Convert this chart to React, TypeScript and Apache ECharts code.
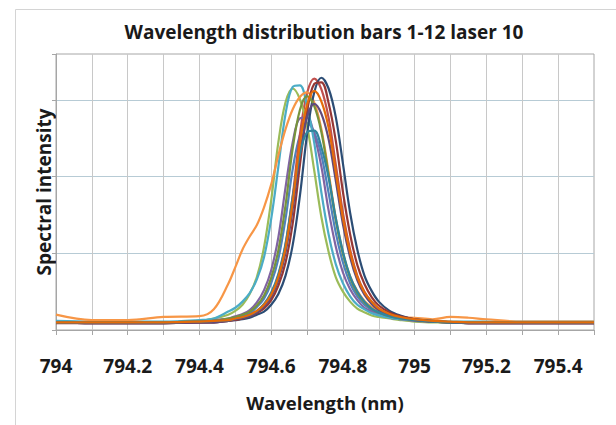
import React, { useEffect, useRef } from 'react';
import * as echarts from 'echarts';

const wavelengths = [794.00, 794.10, 794.20, 794.30, 794.40, 794.44, 794.48, 794.50, 794.52, 794.54, 794.56, 794.58, 794.60, 794.62, 794.64, 794.66, 794.68, 794.70, 794.72, 794.74, 794.76, 794.78, 794.80, 794.82, 794.84, 794.86, 794.88, 794.90, 794.93, 794.96, 795.00, 795.05, 795.10, 795.15, 795.20, 795.30, 795.40, 795.50];

const bar1 = [0.11, 0.10, 0.10, 0.10, 0.11, 0.12, 0.14, 0.16, 0.19, 0.22, 0.30, 0.41, 0.61, 0.93, 1.45, 2.10, 2.54, 2.70, 2.58, 2.28, 1.79, 1.27, 0.88, 0.61, 0.44, 0.33, 0.26, 0.21, 0.17, 0.14, 0.12, 0.11, 0.10, 0.10, 0.10, 0.10, 0.10, 0.10];
const bar2 = [0.10, 0.09, 0.09, 0.09, 0.10, 0.11, 0.13, 0.14, 0.16, 0.20, 0.24, 0.33, 0.47, 0.71, 1.11, 1.75, 2.55, 3.09, 3.28, 3.14, 2.77, 2.16, 1.53, 1.05, 0.71, 0.50, 0.37, 0.28, 0.21, 0.16, 0.13, 0.11, 0.10, 0.09, 0.09, 0.09, 0.09, 0.09];
const bar3 = [0.10, 0.10, 0.10, 0.10, 0.12, 0.15, 0.20, 0.25, 0.33, 0.47, 0.69, 1.08, 1.69, 2.45, 2.97, 3.15, 3.01, 2.66, 2.08, 1.47, 1.02, 0.69, 0.50, 0.37, 0.28, 0.23, 0.19, 0.17, 0.15, 0.13, 0.11, 0.10, 0.10, 0.10, 0.10, 0.10, 0.10, 0.10];
const bar4 = [0.10, 0.10, 0.10, 0.10, 0.11, 0.13, 0.15, 0.18, 0.21, 0.26, 0.36, 0.52, 0.78, 1.21, 1.86, 2.45, 2.76, 2.77, 2.54, 2.13, 1.56, 1.09, 0.75, 0.53, 0.39, 0.29, 0.24, 0.20, 0.16, 0.14, 0.12, 0.11, 0.10, 0.10, 0.10, 0.10, 0.10, 0.10];
const bar5 = [0.12, 0.11, 0.11, 0.11, 0.13, 0.15, 0.24, 0.29, 0.37, 0.48, 0.66, 0.95, 1.45, 2.13, 2.82, 3.17, 3.19, 2.92, 2.44, 1.79, 1.25, 0.86, 0.61, 0.44, 0.33, 0.27, 0.22, 0.19, 0.16, 0.14, 0.13, 0.12, 0.11, 0.11, 0.11, 0.11, 0.11, 0.11];
const bar6 = [0.20, 0.13, 0.13, 0.17, 0.18, 0.27, 0.60, 0.82, 1.05, 1.22, 1.37, 1.60, 1.90, 2.28, 2.62, 2.88, 3.04, 3.10, 2.97, 2.62, 2.06, 1.46, 1.01, 0.70, 0.51, 0.38, 0.30, 0.25, 0.20, 0.17, 0.16, 0.14, 0.17, 0.16, 0.14, 0.11, 0.11, 0.11];
const bar7 = [0.10, 0.09, 0.09, 0.09, 0.10, 0.10, 0.12, 0.13, 0.14, 0.16, 0.20, 0.24, 0.33, 0.47, 0.71, 1.11, 1.75, 2.55, 3.10, 3.29, 3.15, 2.78, 2.17, 1.53, 1.05, 0.71, 0.51, 0.37, 0.25, 0.19, 0.14, 0.12, 0.10, 0.09, 0.09, 0.09, 0.09, 0.09];
const bar8 = [0.09, 0.09, 0.09, 0.09, 0.10, 0.10, 0.12, 0.13, 0.15, 0.18, 0.22, 0.28, 0.39, 0.58, 0.88, 1.39, 2.15, 2.85, 3.21, 3.23, 2.96, 2.47, 1.80, 1.25, 0.85, 0.60, 0.43, 0.32, 0.23, 0.18, 0.14, 0.11, 0.10, 0.09, 0.09, 0.09, 0.09, 0.09];
const bar9 = [0.10, 0.10, 0.10, 0.10, 0.11, 0.12, 0.15, 0.17, 0.20, 0.24, 0.32, 0.45, 0.68, 1.04, 1.63, 2.37, 2.87, 3.05, 2.92, 2.58, 2.02, 1.43, 0.99, 0.68, 0.48, 0.36, 0.28, 0.23, 0.18, 0.15, 0.13, 0.11, 0.10, 0.10, 0.10, 0.10, 0.10, 0.10];
const bar10 = [0.10, 0.09, 0.09, 0.09, 0.10, 0.10, 0.12, 0.14, 0.16, 0.18, 0.23, 0.31, 0.43, 0.65, 1.01, 1.58, 2.29, 2.78, 2.95, 2.82, 2.49, 1.95, 1.38, 0.95, 0.65, 0.46, 0.34, 0.26, 0.19, 0.16, 0.13, 0.11, 0.10, 0.09, 0.09, 0.09, 0.09, 0.09];
const bar11 = [0.10, 0.10, 0.10, 0.10, 0.11, 0.12, 0.13, 0.15, 0.17, 0.20, 0.25, 0.34, 0.49, 0.73, 1.13, 1.74, 2.29, 2.58, 2.60, 2.38, 1.99, 1.46, 1.02, 0.70, 0.50, 0.37, 0.28, 0.23, 0.18, 0.15, 0.13, 0.11, 0.10, 0.10, 0.10, 0.10, 0.10, 0.10];
const bar12 = [0.10, 0.10, 0.10, 0.10, 0.11, 0.12, 0.13, 0.15, 0.17, 0.20, 0.25, 0.33, 0.46, 0.69, 1.07, 1.67, 2.43, 2.94, 3.12, 2.98, 2.64, 2.06, 1.46, 1.01, 0.69, 0.49, 0.37, 0.28, 0.21, 0.17, 0.14, 0.12, 0.11, 0.10, 0.10, 0.10, 0.10, 0.10];

const seriesNames = ['Bar 1', 'Bar 2', 'Bar 3', 'Bar 4', 'Bar 5', 'Bar 6', 'Bar 7', 'Bar 8', 'Bar 9', 'Bar 10', 'Bar 11', 'Bar 12'];
const seriesColors = ['#4F81BD', '#C0504D', '#9BBB59', '#8064A2', '#4BACC6', '#F79646', '#2C4D75', '#953735', '#77933C', '#604A7B', '#31859C', '#E46C0A'];

const titleText = 'Wavelength distribution bars 1-12 laser 10';
const xName = 'Wavelength (nm)';
const yName = 'Spectral intensity';
const FONT = "'Open Sans', 'DejaVu Sans', sans-serif";

export default function App() {
  const ref = useRef<HTMLDivElement>(null);
  useEffect(() => {
    if (!ref.current) return;
    const chart = echarts.init(ref.current, null, { renderer: 'svg' });
    const all = [bar1, bar2, bar3, bar4, bar5, bar6, bar7, bar8, bar9, bar10, bar11, bar12];
    chart.setOption({
      animation: false,
      backgroundColor: '#ffffff',
      graphic: [
        {
          type: 'rect',
          silent: true,
          z: -10,
          shape: { x: 15.5, y: 9.5, width: 700, height: 500 },
          style: { fill: 'none', stroke: '#d4d4d4', lineWidth: 1 },
        },
        {
          type: 'text',
          x: 324,
          y: 32,
          silent: true,
          style: {
            text: titleText,
            align: 'center',
            verticalAlign: 'middle',
            fontFamily: FONT,
            fontWeight: 'bold',
            fontSize: 19,
            fill: '#1a1a1a',
          },
        },
      ],
      grid: { left: 56, right: 22, top: 54, bottom: 95, show: true, borderColor: '#a6a6a6', borderWidth: 1 },
      xAxis: {
        type: 'value',
        min: 794,
        max: 795.5,
        interval: 0.1,
        name: xName,
        nameLocation: 'middle',
        nameGap: 63,
        nameTextStyle: { fontFamily: FONT, fontWeight: 'bold', fontSize: 18.5, color: '#1a1a1a' },
        axisLine: { show: true, lineStyle: { color: '#a6a6a6', width: 1 } },
        axisTick: { show: true, length: 5, lineStyle: { color: '#a6a6a6' } },
        axisLabel: {
          margin: 26,
          fontFamily: FONT,
          fontWeight: 'bold',
          fontSize: 19,
          color: '#1a1a1a',
          formatter: (v: number) => {
            const t = Math.round(v * 10);
            return t % 2 === 0 ? String(t / 10) : '';
          },
        },
        splitLine: { show: true, showMinLine: false, showMaxLine: false, lineStyle: { color: '#c8c8c8', width: 1 } },
      },
      yAxis: {
        type: 'value',
        min: 0,
        max: 3.6,
        interval: 1,
        name: yName,
        nameLocation: 'middle',
        nameGap: 3,
        nameRotate: 90,
        nameTextStyle: { fontFamily: FONT, fontWeight: 'bold', fontSize: 19, color: '#1a1a1a' },
        axisLine: { show: true, lineStyle: { color: '#a6a6a6', width: 1 } },
        axisTick: { show: true, length: 4, lineStyle: { color: '#a6a6a6' } },
        axisLabel: { show: false },
        splitLine: { show: true, showMinLine: false, showMaxLine: false, lineStyle: { color: '#b7cbd5', width: 1.2 } },
      },
      series: all.map((vals, i) => ({
        type: 'line',
        name: seriesNames[i],
        data: wavelengths.map((w, j) => [w, vals[j]]),
        smooth: 0.35,
        symbol: 'none',
        showSymbol: false,
        lineStyle: { width: 2.2, color: seriesColors[i] },
        itemStyle: { color: seriesColors[i] },
      })),
    });
    return () => chart.dispose();
  }, []);
  return <div ref={ref} style={{ position: 'absolute', left: 0, top: 0, width: 616, height: 425 }} />;
}
